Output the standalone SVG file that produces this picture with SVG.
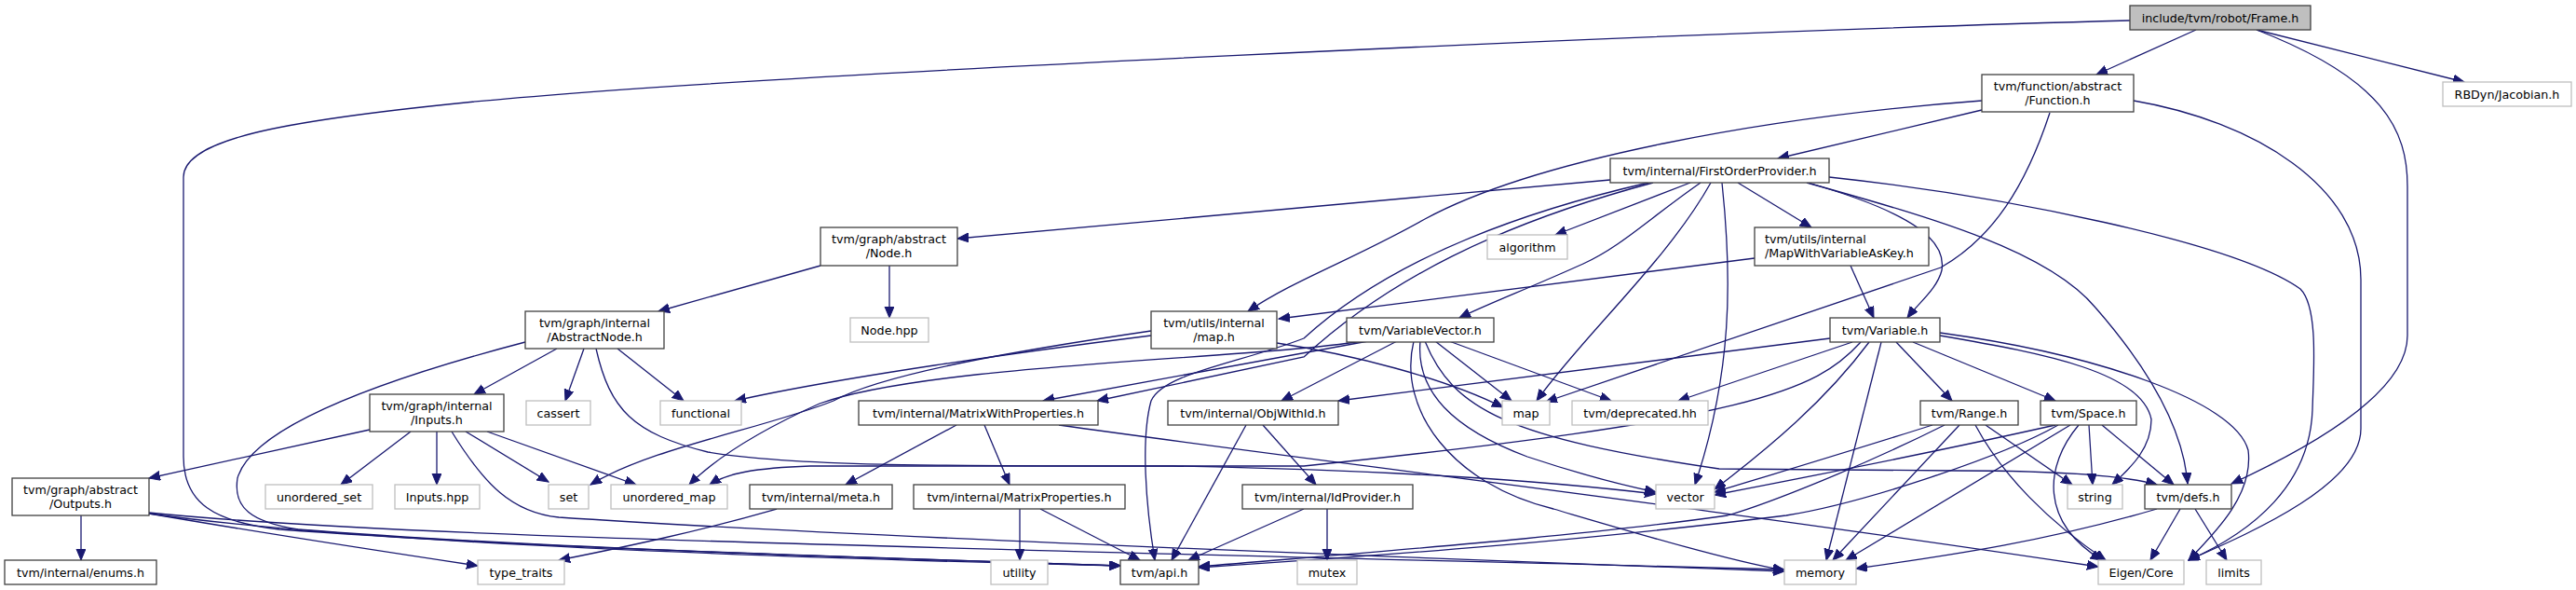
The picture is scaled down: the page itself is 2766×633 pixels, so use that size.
<svg xmlns="http://www.w3.org/2000/svg" width="2766" height="633" viewBox="0 0 2766 633">
<style>
text{font-family:"DejaVu Sans","Liberation Sans",sans-serif;font-size:12.7px;fill:#000;text-anchor:middle}
text.l{text-anchor:start}
.n rect{fill:#fff;stroke:#404040;stroke-width:1.3}
.g rect{fill:#fff;stroke:#bfbfbf;stroke-width:1.3}
.r rect{fill:#bfbfbf;stroke:#404040;stroke-width:1.3}
#edges path{fill:none;stroke:#191970;stroke-width:1.3;marker-end:url(#a)}
</style>
<defs>
<marker id="a" markerUnits="userSpaceOnUse" markerWidth="14" markerHeight="12" refX="12" refY="5" orient="auto">
<path d="M0,0 L12,5 L0,10 z" fill="#191970" stroke="#191970" stroke-width="1"/>
</marker>
</defs>
<rect width="2766" height="633" fill="#fff"/>
<g id="edges">
<path d="M2358,32 L2251,80"/>
<path d="M2423,32 L2646,88"/>
<path d="M2423,32 C2560,85 2585,140 2585,200 L2585,360 C2585,425 2470,485 2396,519"/>
<path d="M2287,22 C1800,35 800,80 500,110 C300,130 197,150 197,190 L197,490 C197,540 230,560 300,568 C600,590 1000,600 1203,607"/>
<path d="M2128,118 L1909,170"/>
<path d="M2128,108 C1900,125 1650,170 1530,235 C1450,280 1390,300 1340,334"/>
<path d="M2201,121 C2175,200 2140,255 2084,287 L1660,431"/>
<path d="M2291,108 C2420,130 2535,200 2535,300 L2535,460 C2535,520 2420,570 2350,601"/>
<path d="M1729,193 L1028,256"/>
<path d="M1815,196 L1670,252"/>
<path d="M1866,196 L1945,244"/>
<path d="M1941,196 C2060,230 2090,260 2085,290 C2080,310 2060,325 2048,341"/>
<path d="M1826,196 C1770,235 1740,265 1700,283 C1640,310 1600,325 1567,341"/>
<path d="M1837,196 C1790,280 1700,360 1650,430"/>
<path d="M1849,196 C1860,300 1860,400 1820,520"/>
<path d="M1770,196 C1600,235 1480,290 1400,363 C1330,390 1250,400 1236,430 C1225,470 1230,540 1240,601"/>
<path d="M1775,196 C1610,240 1490,300 1400,383 L1178,430"/>
<path d="M1940,196 C2080,235 2200,270 2250,330 C2320,410 2345,470 2349,519"/>
<path d="M1964,190 C2150,210 2400,260 2470,310 C2490,330 2484,400 2483,440 C2480,520 2420,570 2350,601"/>
<path d="M1884,277 L1373,342"/>
<path d="M1987,285 L2012,341"/>
<path d="M881,285 L707,334"/>
<path d="M955,285 L955,341"/>
<path d="M1236,360 C1100,377 900,405 789,430"/>
<path d="M1236,355 C1100,375 950,400 895,430 C820,460 700,480 634,520"/>
<path d="M1371,368 C1450,380 1550,405 1614,437"/>
<path d="M1541,366 L1623,430"/>
<path d="M1556,366 L1730,430"/>
<path d="M1525,366 C1520,420 1560,460 1640,490 C1700,510 1740,520 1778,528"/>
<path d="M1530,366 C1560,440 1620,470 1846,503 L2100,505 C2200,505 2280,510 2316,520"/>
<path d="M1518,366 C1500,440 1560,520 1668,546 C1750,570 1850,600 1916,612"/>
<path d="M1500,366 L1376,430"/>
<path d="M1469,366 L1120,430"/>
<path d="M1462,366 C1350,385 1000,390 880,433 C820,460 770,490 740,520"/>
<path d="M2036,367 L2096,430"/>
<path d="M2054,367 L2207,430"/>
<path d="M2083,360 C2200,380 2300,400 2310,450 C2310,480 2290,500 2268,520"/>
<path d="M2083,357 C2250,380 2400,430 2414,483 C2420,530 2380,570 2350,601"/>
<path d="M2020,367 L1961,601"/>
<path d="M1965,363 L1437,430"/>
<path d="M1989,367 L1802,430"/>
<path d="M2007,367 C1960,430 1900,480 1841,525"/>
<path d="M1998,367 C1950,420 1880,450 1400,500 L870,500 C810,502 780,508 762,520"/>
<path d="M2075,456 C2000,480 1900,510 1841,528"/>
<path d="M2088,456 C2000,500 1900,540 1855,553 C1700,575 1500,590 1287,608"/>
<path d="M2104,456 L1968,601"/>
<path d="M2121,456 C2150,510 2200,560 2261,601"/>
<path d="M2132,456 L2225,520"/>
<path d="M2207,456 C2100,480 1950,510 1841,531"/>
<path d="M2210,456 C2150,490 2000,540 1918,553 C1700,580 1500,595 1287,609"/>
<path d="M2223,456 L1982,601"/>
<path d="M2232,456 C2195,500 2190,560 2257,601"/>
<path d="M2243,456 L2247,520"/>
<path d="M2257,456 L2334,520"/>
<path d="M2316,546 C2200,580 2100,595 1993,610"/>
<path d="M2341,546 L2309,601"/>
<path d="M2357,546 L2391,601"/>
<path d="M1027,456 L908,520"/>
<path d="M1057,456 L1084,520"/>
<path d="M1137,456 C1400,493 1800,540 2253,608"/>
<path d="M1338,456 L1258,601"/>
<path d="M1356,456 L1413,520"/>
<path d="M1425,546 L1425,601"/>
<path d="M1400,546 L1276,601"/>
<path d="M1095,546 L1095,601"/>
<path d="M1117,546 L1224,601"/>
<path d="M834,546 C750,570 680,585 600,601"/>
<path d="M598,374 L509,423"/>
<path d="M627,374 L607,430"/>
<path d="M663,374 L734,430"/>
<path d="M640,374 C655,440 680,465 760,485 C850,500 1000,500 1260,500 C1500,505 1650,515 1778,530"/>
<path d="M564,367 C400,410 270,460 255,513 C250,545 270,560 320,568 C600,590 1000,600 1203,607"/>
<path d="M397,461 L160,513"/>
<path d="M441,463 L366,520"/>
<path d="M469,463 L469,520"/>
<path d="M500,463 L589,517"/>
<path d="M523,463 L683,520"/>
<path d="M485,463 C520,520 550,550 600,555 C900,575 1500,598 1916,613"/>
<path d="M87,553 L87,601"/>
<path d="M160,551 C300,575 400,590 513,607"/>
<path d="M160,551 C400,585 900,600 1203,607"/>
<path d="M160,550 C400,575 900,585 1916,611"/>
</g>
<g id="n_frame" class="r"><rect x="2287" y="6" width="194" height="26"/><text x="2384" y="23.5">include/tvm/robot/Frame.h</text></g>
<g id="n_function" class="n"><rect x="2128" y="80" width="163" height="40"/><text x="2209.5" y="97">tvm/function/abstract</text><text x="2209.5" y="111.5">/Function.h</text></g>
<g id="n_rbdyn" class="g"><rect x="2623" y="88" width="138" height="26"/><text x="2692" y="105.5">RBDyn/Jacobian.h</text></g>
<g id="n_fop" class="n"><rect x="1729" y="170" width="235" height="26"/><text x="1846.5" y="187.5">tvm/internal/FirstOrderProvider.h</text></g>
<g id="n_nodeh" class="n"><rect x="881" y="244" width="147" height="41"/><text x="954.5" y="261">tvm/graph/abstract</text><text x="954.5" y="275.5">/Node.h</text></g>
<g id="n_algorithm" class="g"><rect x="1597" y="252" width="86" height="26"/><text x="1640" y="269.5">algorithm</text></g>
<g id="n_mapwvak" class="n"><rect x="1884" y="244" width="187" height="41"/><text class="l" x="1895" y="261">tvm/utils/internal</text><text class="l" x="1895" y="275.5">/MapWithVariableAsKey.h</text></g>
<g id="n_abstractnode" class="n"><rect x="564" y="334" width="149" height="40"/><text x="638.5" y="351">tvm/graph/internal</text><text x="638.5" y="365.5">/AbstractNode.h</text></g>
<g id="n_nodehpp" class="g"><rect x="913" y="341" width="84" height="26"/><text x="955" y="358.5">Node.hpp</text></g>
<g id="n_maph" class="n"><rect x="1236" y="334" width="135" height="40"/><text x="1303.5" y="351">tvm/utils/internal</text><text x="1303.5" y="365.5">/map.h</text></g>
<g id="n_varvec" class="n"><rect x="1446" y="341" width="158" height="26"/><text x="1525" y="358.5">tvm/VariableVector.h</text></g>
<g id="n_variable" class="n"><rect x="1965" y="341" width="118" height="26"/><text x="2024" y="358.5">tvm/Variable.h</text></g>
<g id="n_inputs" class="n"><rect x="397" y="423" width="144" height="40"/><text x="469" y="440">tvm/graph/internal</text><text x="469" y="454.5">/Inputs.h</text></g>
<g id="n_cassert" class="g"><rect x="565" y="430" width="69" height="26"/><text x="599.5" y="447.5">cassert</text></g>
<g id="n_functional" class="g"><rect x="709" y="430" width="87" height="26"/><text x="752.5" y="447.5">functional</text></g>
<g id="n_mwp" class="n"><rect x="922" y="430" width="257" height="26"/><text x="1050.5" y="447.5">tvm/internal/MatrixWithProperties.h</text></g>
<g id="n_objwithid" class="n"><rect x="1254" y="430" width="183" height="26"/><text x="1345.5" y="447.5">tvm/internal/ObjWithId.h</text></g>
<g id="n_map" class="g"><rect x="1613" y="430" width="51" height="26"/><text x="1638.5" y="447.5">map</text></g>
<g id="n_deprecated" class="g"><rect x="1688" y="430" width="146" height="26"/><text x="1761" y="447.5">tvm/deprecated.hh</text></g>
<g id="n_range" class="n"><rect x="2062" y="430" width="105" height="26"/><text x="2114.5" y="447.5">tvm/Range.h</text></g>
<g id="n_space" class="n"><rect x="2191" y="430" width="103" height="26"/><text x="2242.5" y="447.5">tvm/Space.h</text></g>
<g id="n_outputs" class="n"><rect x="13" y="513" width="147" height="40"/><text x="86.5" y="530">tvm/graph/abstract</text><text x="86.5" y="544.5">/Outputs.h</text></g>
<g id="n_unordered_set" class="g"><rect x="285" y="520" width="115" height="26"/><text x="342.5" y="537.5">unordered_set</text></g>
<g id="n_inputshpp" class="g"><rect x="424" y="520" width="91" height="26"/><text x="469.5" y="537.5">Inputs.hpp</text></g>
<g id="n_set" class="g"><rect x="589" y="520" width="43" height="26"/><text x="610.5" y="537.5">set</text></g>
<g id="n_unordered_map" class="g"><rect x="656" y="520" width="125" height="26"/><text x="718.5" y="537.5">unordered_map</text></g>
<g id="n_meta" class="n"><rect x="805" y="520" width="153" height="26"/><text x="881.5" y="537.5">tvm/internal/meta.h</text></g>
<g id="n_matprop" class="n"><rect x="981" y="520" width="227" height="26"/><text x="1094.5" y="537.5">tvm/internal/MatrixProperties.h</text></g>
<g id="n_idprovider" class="n"><rect x="1334" y="520" width="183" height="26"/><text x="1425.5" y="537.5">tvm/internal/IdProvider.h</text></g>
<g id="n_vector" class="g"><rect x="1778" y="520" width="63" height="26"/><text x="1809.5" y="537.5">vector</text></g>
<g id="n_string" class="g"><rect x="2220" y="520" width="59" height="26"/><text x="2249.5" y="537.5">string</text></g>
<g id="n_defs" class="n"><rect x="2303" y="520" width="93" height="26"/><text x="2349.5" y="537.5">tvm/defs.h</text></g>
<g id="n_enums" class="n"><rect x="5" y="601" width="163" height="26"/><text x="86.5" y="618.5">tvm/internal/enums.h</text></g>
<g id="n_type_traits" class="g"><rect x="513" y="601" width="93" height="26"/><text x="559.5" y="618.5">type_traits</text></g>
<g id="n_utility" class="g"><rect x="1064" y="601" width="61" height="26"/><text x="1094.5" y="618.5">utility</text></g>
<g id="n_api" class="n"><rect x="1203" y="601" width="84" height="26"/><text x="1245" y="618.5">tvm/api.h</text></g>
<g id="n_mutex" class="g"><rect x="1393" y="601" width="64" height="26"/><text x="1425" y="618.5">mutex</text></g>
<g id="n_memory" class="g"><rect x="1916" y="601" width="77" height="26"/><text x="1954.5" y="618.5">memory</text></g>
<g id="n_eigen" class="g"><rect x="2253" y="601" width="92" height="26"/><text x="2299" y="618.5">Eigen/Core</text></g>
<g id="n_limits" class="g"><rect x="2369" y="601" width="59" height="26"/><text x="2398.5" y="618.5">limits</text></g>
</svg>
